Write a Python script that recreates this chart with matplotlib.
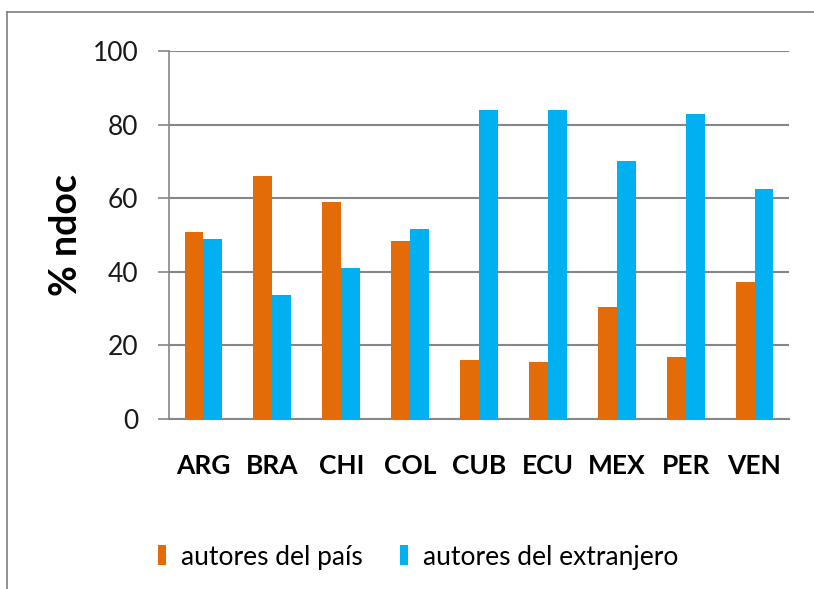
import numpy as np
import matplotlib
matplotlib.use("Agg")
import matplotlib.pyplot as plt
from matplotlib.lines import Line2D

plt.rcParams['font.family'] = ['Lato', 'DejaVu Sans']

countries = ["ARG", "BRA", "CHI", "COL", "CUB", "ECU", "MEX", "PER", "VEN"]
pais = [50.7, 65.9, 58.9, 48.3, 16.1, 15.5, 30.3, 16.8, 37.1]
extranjero = [49.0, 33.6, 41.0, 51.7, 84.1, 84.1, 70.0, 83.0, 62.5]
series_names = ["autores del país", "autores del extranjero"]
colors = ["#E36C09", "#00B0F0"]
yticks = [0, 20, 40, 60, 80, 100]

W, H = 814, 589
fig = plt.figure(figsize=(W / 100, H / 100), dpi=100)
ax = fig.add_axes([169 / W, 1 - 419 / H, (789 - 169) / W, (419 - 51) / H])

x = np.arange(len(countries))
w = 0.275
ax.bar(x - w / 2, pais, w, color=colors[0], label=series_names[0], zorder=3)
ax.bar(x + w / 2, extranjero, w, color=colors[1], label=series_names[1], zorder=3)

ax.set_xlim(-0.5, len(countries) - 0.5)
ax.set_ylim(0, 100)
ax.set_yticks(yticks)
ax.yaxis.grid(True, color='#868686', linewidth=1.5, zorder=0)
ax.set_axisbelow(True)

for s in ['top', 'right']:
    ax.spines[s].set_visible(False)
ax.spines['left'].set_color('#868686')
ax.spines['left'].set_linewidth(1.2)
ax.spines['bottom'].set_color('#868686')
ax.spines['bottom'].set_linewidth(1.5)

ax.tick_params(axis='y', length=8, width=1.2, color='#868686', pad=14,
               labelsize=19, labelcolor='#1a1a1a')
ax.tick_params(axis='x', length=0, pad=25, labelsize=19)
ax.set_xticks(x)
ax.set_xticklabels(countries, fontweight='bold')

ax.set_ylabel('% ndoc', fontsize=27, fontweight='bold')
ax.yaxis.set_label_coords((83 - 169) / (789 - 169), (419 - 235) / (419 - 51))

fig.legend(loc='center', bbox_to_anchor=(418 / W, 1 - 557 / H), ncol=2,
           frameon=False, fontsize=19, handlelength=0.33, handleheight=0.8,
           handletextpad=0.55, columnspacing=1.4)

# outer chart border
fig.add_artist(Line2D([7 / W, 7 / W], [0, 1 - 12 / H], transform=fig.transFigure,
                      color='#7f7f7f', linewidth=1.2))
fig.add_artist(Line2D([7 / W, 1], [1 - 12 / H, 1 - 12 / H], transform=fig.transFigure,
                      color='#7f7f7f', linewidth=1.2))

fig.savefig('out.png', dpi=100)
